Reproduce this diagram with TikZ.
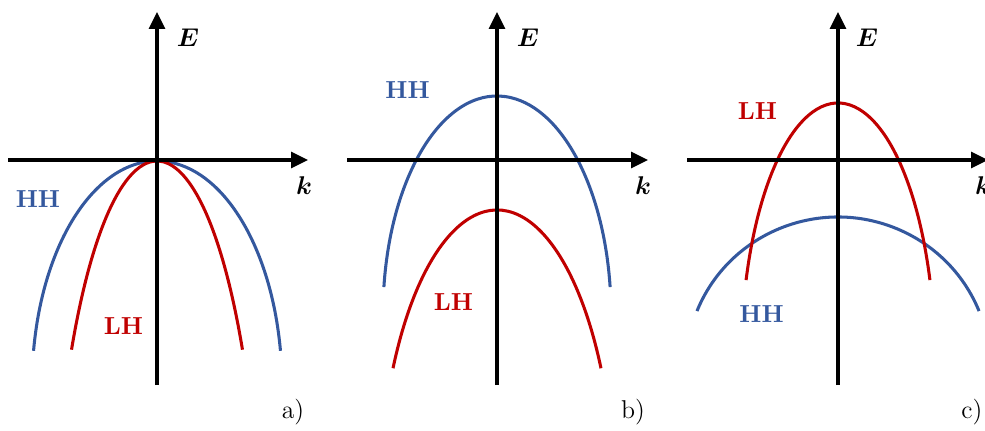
\documentclass[tikz,border=0pt]{standalone}
\usepackage{amsmath,bm}
\usetikzlibrary{arrows.meta}
\definecolor{hhblue}{RGB}{52,88,158}
\definecolor{lhred}{RGB}{192,0,0}
\tikzset{
  axis/.style  ={-{Triangle[length=7.2pt,width=6.8pt]}, line width=1.3pt},
  band/.style  ={line width=1.3pt},
  hh/.style    ={band, draw=hhblue},
  lh/.style    ={band, draw=lhred},
  blab/.style  ={font=\fontsize{10.5}{12}\selectfont\bfseries, inner sep=0pt},
  hhlab/.style ={blab, text=hhblue},
  lhlab/.style ={blab, text=lhred},
  axlab/.style ={font=\fontsize{10.5}{12}\selectfont, inner sep=0pt},
  tag/.style   ={font=\fontsize{11}{13}\selectfont, inner sep=0pt}
}

\begin{document}
\begin{tikzpicture}[x=0.015cm,y=0.015cm]
  \useasboundingbox (0,0) rectangle (985,430);

  % a) both bands meet at k=0
  \begin{scope}[shift={(157,270)}]
    \coordinate (aB) at (0,-225); \coordinate (aT) at (0,148);
    \coordinate (aL) at (-149,0); \coordinate (aR) at (151,0);
    \coordinate (aHc) at (0,-226); \coordinate (aLc) at (0,-451);
    \draw[hh] (aHc) ++(171:125 and 225) arc[start angle=171, end angle=9, x radius=125, y radius=225];
    \draw[lh] (aLc) ++(144.5:105 and 450) arc[start angle=144.5, end angle=35.5, x radius=105, y radius=450];
    \draw[axis](aB)--(aT);
    \draw[axis](aL)--(aR);
    \node[axlab](aE) at (31,122){$\bm{E}$};
    \node[axlab](ak) at (147,-26){$\bm{k}$};
    \node[hhlab](aHH) at (-119,-39.5){HH};
    \node[lhlab](aLH) at (-33.5,-166){LH};
    \node[tag](atag) at (136,-252){a)};
  \end{scope}

  % b) HH on top
  \begin{scope}[shift={(497,270)}]
    \coordinate (bB) at (0,-225); \coordinate (bT) at (0,148);
    \coordinate (bL) at (-150,0); \coordinate (bR) at (151,0);
    \coordinate (bHc) at (0,-154); \coordinate (bLc) at (0,-350);
    \draw[hh] (bHc) ++(172.9:114 and 218) arc[start angle=172.9, end angle=7.1, x radius=114, y radius=218];
    \draw[lh] (bLc) ++(151.8:118 and 300) arc[start angle=151.8, end angle=28.2, x radius=118, y radius=300];
    \draw[axis](bB)--(bT);
    \draw[axis](bL)--(bR);
    \node[axlab](bE) at (31,122){$\bm{E}$};
    \node[axlab](bk) at (146,-26){$\bm{k}$};
    \node[hhlab](bHH) at (-89.5,69.5){HH};
    \node[lhlab](bLH) at (-43.5,-142){LH};
    \node[tag](btag) at (136,-252){b)};
  \end{scope}

  % c) LH on top
  \begin{scope}[shift={(838,270)}]
    \coordinate (cB) at (0,-225); \coordinate (cT) at (0,148);
    \coordinate (cL) at (-151,0); \coordinate (cR) at (150,0);
    \coordinate (cHc) at (0,-207); \coordinate (cLc) at (0,-203);
    \draw[hh] (cHc) ++(158.1:152 and 150) arc[start angle=158.1, end angle=21.9, x radius=152, y radius=150];
    \draw[lh] (cLc) ++(161.4:97 and 260) arc[start angle=161.4, end angle=18.6, x radius=97, y radius=260];
    \draw[axis](cB)--(cT);
    \draw[axis](cL)--(cR);
    \node[axlab](cE) at (29,122){$\bm{E}$};
    \node[axlab](ck) at (145,-26){$\bm{k}$};
    \node[hhlab](cHH) at (-76.5,-154){HH};
    \node[lhlab](cLH) at (-80.5,49){LH};
    \node[tag](ctag) at (134,-252){c)};
  \end{scope}
\end{tikzpicture}
\end{document}
